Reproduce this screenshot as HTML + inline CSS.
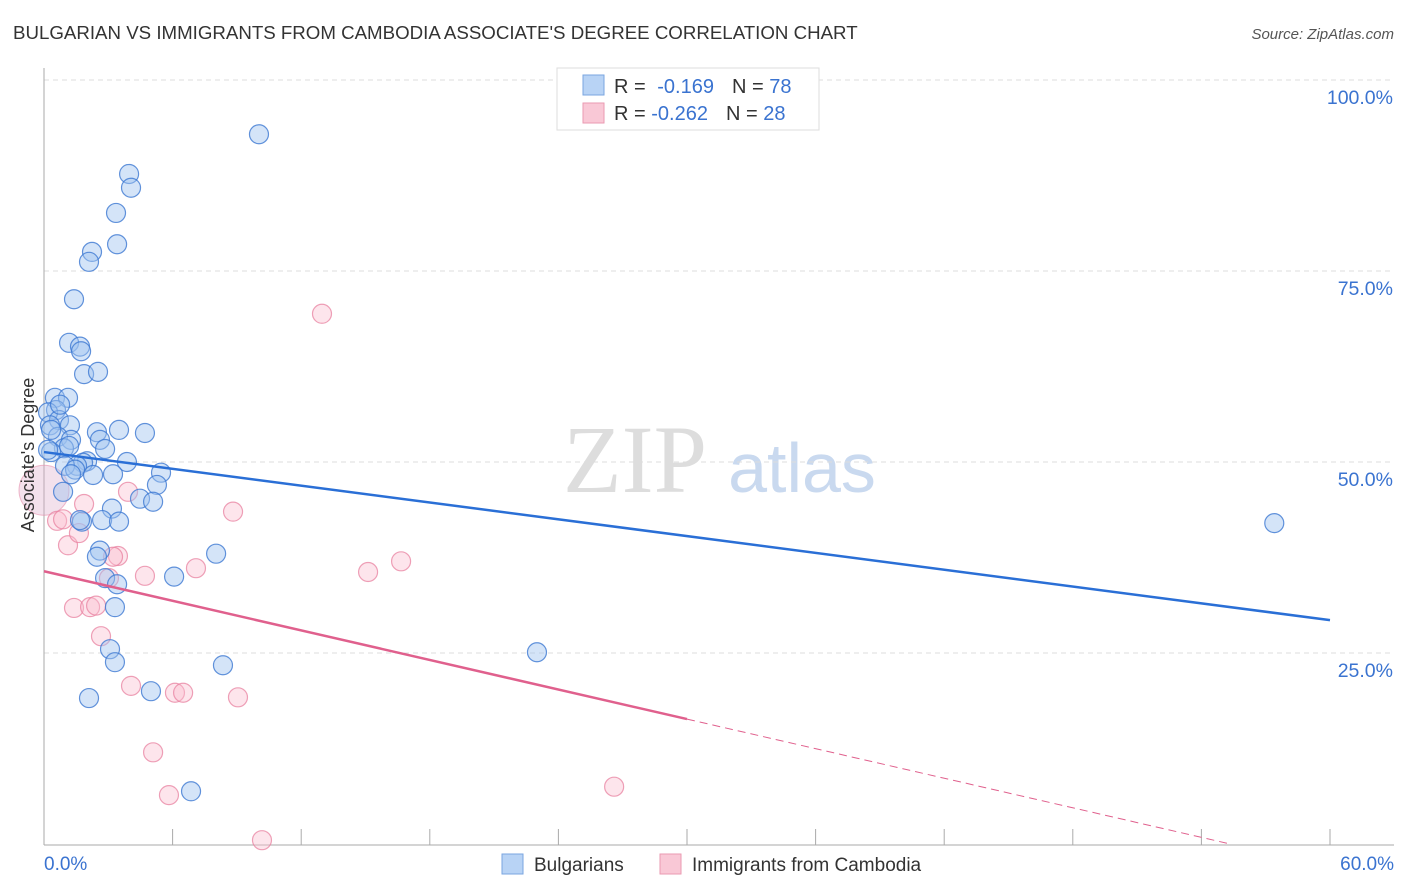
<!DOCTYPE html>
<html><head><meta charset="utf-8"><style>
body{margin:0;background:#fff;font-family:"Liberation Sans",sans-serif;}
svg{display:block}
</style></head><body>
<svg id="c" width="1406" height="892" xmlns="http://www.w3.org/2000/svg">
<text x="13" y="39" font-size="18.7" fill="#333">BULGARIAN VS IMMIGRANTS FROM CAMBODIA ASSOCIATE'S DEGREE CORRELATION CHART</text>
<text x="1394" y="39" font-size="15" fill="#555" font-style="italic" text-anchor="end">Source: ZipAtlas.com</text>
<text x="635" y="492" font-size="96" fill="#ddd" font-family="Liberation Serif,serif" text-anchor="middle">ZIP</text>
<text x="802" y="492" font-size="70" fill="#c9d9ef" text-anchor="middle">atlas</text>
<g id="grid"></g>
<g id="marks"></g>
<text x="34" y="455" font-size="18" fill="#333" text-anchor="middle" transform="rotate(-90 34 455)">Associate's Degree</text>
<g>
<rect x="557" y="68" width="262" height="62" fill="#fff" stroke="#ddd"/>
<rect x="583" y="75" width="21" height="20" fill="#b8d3f5" stroke="#7aa6e0"/>
<rect x="583" y="103" width="21" height="20" fill="#f9c8d6" stroke="#ea9ab1"/>
<text x="614" y="93" font-size="20" fill="#333">R = <tspan fill="#3a73d0" dx="6">-0.169</tspan><tspan dx="18" fill="#333">N = </tspan><tspan fill="#3a73d0">78</tspan></text>
<text x="614" y="120" font-size="20" fill="#333">R = <tspan fill="#3a73d0">-0.262</tspan><tspan dx="18" fill="#333">N = </tspan><tspan fill="#3a73d0">28</tspan></text>
</g>
<g>
<rect x="502" y="854" width="21" height="20" fill="#b8d3f5" stroke="#7aa6e0"/>
<text x="534" y="871" font-size="19" fill="#333">Bulgarians</text>
<rect x="660" y="854" width="21" height="20" fill="#f9c8d6" stroke="#ea9ab1"/>
<text x="692" y="871" font-size="19" fill="#333">Immigrants from Cambodia</text>
</g>
</svg>
<script>
const yTicks=[25,50,75,100];
const yTickLabels=["25.0%","50.0%","75.0%","100.0%"];
const xTickLabels=["0.0%","60.0%"];
const bulgX=[10.03,3.97,4.06,3.36,3.41,2.24,2.10,1.40,1.17,1.68,1.73,1.87,2.52,0.51,1.12,0.56,0.19,0.70,1.21,0.28,0.65,2.47,3.50,4.71,1.26,2.61,0.93,2.85,0.33,1.17,2.01,1.82,1.54,0.98,1.45,3.87,3.22,2.29,1.26,5.46,5.27,0.89,4.48,5.09,3.17,2.71,1.77,1.68,3.50,2.61,2.47,8.03,2.85,3.41,6.07,3.31,3.08,3.31,8.35,23.0,4.99,2.10,6.86,57.4,0.19,0.33,0.75];
const bulgY=[92.9,87.7,85.9,82.6,78.5,77.5,76.2,71.3,65.6,65.1,64.5,61.5,61.8,58.4,58.4,56.8,56.5,55.5,54.8,54.8,53.3,53.9,54.2,53.8,52.9,52.9,51.8,51.7,51.3,52.1,50.1,49.9,49.5,49.5,49.0,50.0,48.4,48.3,48.4,48.6,47.0,46.1,45.2,44.8,43.9,42.4,42.2,42.4,42.2,38.4,37.6,38.0,34.8,34.0,35.0,31.0,25.5,23.8,23.4,25.1,20.0,19.1,6.9,42.0,51.6,54.2,57.5];
const cambX=[0.61,0.89,1.87,1.12,1.63,3.92,8.82,12.97,3.45,3.22,3.03,4.71,7.09,15.12,16.66,1.40,2.15,2.43,2.66,4.06,6.11,6.49,9.05,5.09,5.83,26.6,10.17];
const cambY=[42.3,42.5,44.5,39.1,40.7,46.1,43.5,69.4,37.7,37.6,34.8,35.1,36.1,35.6,37.0,30.9,31.0,31.2,27.2,20.7,19.8,19.8,19.2,12.0,6.4,7.5,0.5];
const bulgTrend=[51.3,29.3];
const cambTrend=[35.7,-0.645];
const NS="http://www.w3.org/2000/svg";
const X0=44,X1=1330,Y0=844,Y100=80;
const sx=v=>X0+(v/60)*(X1-X0);
const sy=v=>Y0-(v/100)*(Y0-Y100);
function mk(tag,attrs,parent){const e=document.createElementNS(NS,tag);for(const k in attrs)e.setAttribute(k,attrs[k]);parent.appendChild(e);return e;}
const grid=document.getElementById('grid'),marks=document.getElementById('marks');
yTicks.forEach((t,i)=>{
 const l=mk('line',{x1:X0,x2:1394,y1:sy(t),y2:sy(t),stroke:'#ddd','stroke-dasharray':'5,4'},grid);
 
 
 const tx=mk('text',{x:1393,y:sy(t)+24,'font-size':19.5,fill:'#3a73d0','text-anchor':'end'},grid);
 tx.textContent=yTickLabels[i];
 
 
});
const ax=mk('line',{x1:X0,x2:X0,y1:68,y2:845,stroke:'#aaa'},grid);


const bx=mk('line',{x1:X0,x2:1394,y1:845,y2:845,stroke:'#aaa'},grid);


for(let i=0;i<=10;i++){
 const x=X0+i*(X1-X0)/10;
 const tk=mk('line',{x1:x,x2:x,y1:829,y2:845,stroke:'#aaa'},grid);
 
 
}
[[X0,'start',0],[1394,'end',1]].forEach(([x,a,i])=>{
 const t=mk('text',{x:x,y:870,'font-size':19,fill:'#3a73d0','text-anchor':a},grid);
 t.textContent=xTickLabels[i];
 
 
});
const bg=mk('circle',{cx:sx(0),cy:sy(46.3),r:25,fill:'rgba(220,170,200,0.35)',stroke:'rgba(230,140,170,0.6)'},marks);


cambX.forEach((x,i)=>{
 const c=mk('circle',{cx:sx(x),cy:sy(cambY[i]),r:9.5,fill:'rgba(249,190,208,0.4)',stroke:'rgba(232,130,160,0.75)','stroke-width':1.2},marks);
 
 
});
bulgX.forEach((x,i)=>{
 const c=mk('circle',{cx:sx(x),cy:sy(bulgY[i]),r:9.5,fill:'rgba(160,195,240,0.45)',stroke:'rgba(60,120,210,0.8)','stroke-width':1.2},marks);
 
 
});
const bl=mk('line',{x1:sx(0),y1:sy(bulgTrend[0]),x2:sx(60),y2:sy(bulgTrend[1]),stroke:'#2a6fd6','stroke-width':2.5},marks);


const cy=x=>cambTrend[0]+cambTrend[1]*x;
const pl=mk('line',{x1:sx(0),y1:sy(cy(0)),x2:sx(30),y2:sy(cy(30)),stroke:'#e0608d','stroke-width':2.5},marks);


const xz=-cambTrend[0]/cambTrend[1];
const pd=mk('line',{x1:sx(30),y1:sy(cy(30)),x2:sx(xz),y2:sy(0),stroke:'#e0608d','stroke-width':1,'stroke-dasharray':'8,5'},marks);


</script>
</body></html>
